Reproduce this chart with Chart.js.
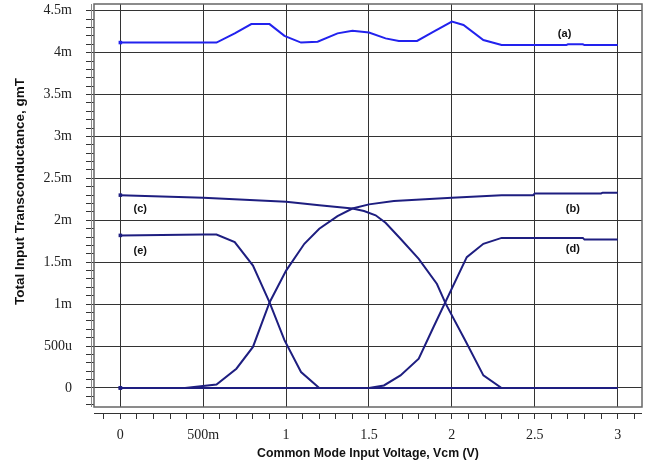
<!DOCTYPE html>
<html>
<head>
<meta charset="utf-8">
<title>Total Input Transconductance vs Vcm</title>
<script src="https://cdn.jsdelivr.net/npm/chart.js@4.4.0/dist/chart.umd.min.js"></script>
<style>
  html, body { margin: 0; padding: 0; background: #fff; }
</style>
</head>
<body>
<canvas id="gmChart" width="651" height="467"></canvas>
<script>
// Vcm (V) and gmT (mS), one pair of arrays per curve
const vcmA = [0, 0.58, 0.69, 0.79, 0.90, 0.99, 1.09, 1.19, 1.31, 1.40, 1.50, 1.60, 1.68, 1.79, 1.89, 2.0, 2.07, 2.19, 2.30, 2.69, 2.70, 2.79, 2.80, 3.0];
const gmA  = [4.12, 4.12, 4.23, 4.34, 4.34, 4.20, 4.12, 4.13, 4.23, 4.26, 4.24, 4.17, 4.14, 4.14, 4.25, 4.37, 4.33, 4.15, 4.09, 4.09, 4.10, 4.10, 4.09, 4.09];

const vcmB = [0, 0.39, 0.58, 0.70, 0.80, 0.90, 1.0, 1.11, 1.20, 1.31, 1.40, 1.50, 1.65, 2.0, 2.30, 2.49, 2.50, 2.90, 2.91, 3.0];
const gmB  = [0, 0, 0.04, 0.23, 0.49, 1.02, 1.40, 1.72, 1.90, 2.05, 2.14, 2.19, 2.23, 2.27, 2.30, 2.30, 2.32, 2.32, 2.33, 2.33];

const vcmC = [0, 0.5, 1.0, 1.2, 1.4, 1.47, 1.54, 1.6, 1.69, 1.80, 1.91, 1.964, 2.08, 2.19, 2.30, 3.0];
const gmC  = [2.30, 2.27, 2.22, 2.18, 2.14, 2.11, 2.06, 1.97, 1.78, 1.54, 1.24, 1.0, 0.57, 0.15, 0, 0];

const vcmD = [0, 1.5, 1.59, 1.69, 1.80, 1.89, 2.09, 2.19, 2.30, 2.79, 2.80, 3.0];
const gmD  = [0, 0, 0.03, 0.15, 0.35, 0.73, 1.56, 1.72, 1.79, 1.79, 1.77, 1.77];

const vcmE = [0, 0.5, 0.58, 0.69, 0.80, 0.90, 0.99, 1.09, 1.20, 3.0];
const gmE  = [1.82, 1.83, 1.83, 1.74, 1.46, 1.02, 0.57, 0.19, 0, 0];

const curveNames = ["(a)", "(b)", "(c)", "(d)", "(e)"];
const labelVcm   = [2.68, 2.73, 0.12, 2.73, 0.12];
const labelGm    = [4.22, 2.14, 2.13, 1.66, 1.64];

const xTitle = "Common Mode Input Voltage, Vcm (V)";
const yTitle = "Total Input Transconductance, gmT";

const BLUE = "#2222ee";
const NAVY = "#1e1e80";
const GRID = "#333";

const isMajor = v => Math.abs(v * 2 - Math.round(v * 2)) < 1e-6;

function fmtVcm(v) {
  if (!isMajor(v)) return "";
  if (Math.abs(v) < 1e-9) return "0";
  if (Math.abs(v - 0.5) < 1e-9) return "500m";
  return String(+v.toFixed(1));
}

function fmtGm(v) {
  if (!isMajor(v)) return "";
  if (Math.abs(v) < 1e-9) return "0";
  if (Math.abs(v - 0.5) < 1e-9) return "500u";
  return +v.toFixed(1) + "m";
}

function toPoints(xs, ys) {
  return xs.map((x, i) => ({ x: x, y: ys[i] }));
}

function curve(xs, ys, color) {
  return {
    data: toPoints(xs, ys),
    borderColor: color,
    backgroundColor: color,
    borderWidth: 2,
    tension: 0,
    pointStyle: "rect",
    pointRadius: c => c.dataIndex === 0 ? 2.5 : 0,
    pointBorderWidth: 0,
    pointBackgroundColor: color
  };
}

// frame round the plot, the detached tick bar under it, and the y title
const framePlugin = {
  id: "frame",
  afterDraw(chart) {
    const { ctx, chartArea: a } = chart;
    ctx.save();
    ctx.strokeStyle = "#666";
    ctx.lineWidth = 1.5;
    ctx.strokeRect(a.left, a.top, a.right - a.left, a.bottom - a.top);
    ctx.strokeStyle = "#888";
    ctx.lineWidth = 1;
    ctx.beginPath();
    ctx.moveTo(a.left - 2.5, a.top);
    ctx.lineTo(a.left - 2.5, a.bottom);
    ctx.stroke();
    ctx.strokeStyle = "#333";
    ctx.beginPath();
    ctx.moveTo(a.left, a.bottom + 6.5);
    ctx.lineTo(a.right, a.bottom + 6.5);
    ctx.stroke();

    ctx.translate(20, (a.top + a.bottom) / 2 - 14);
    ctx.rotate(-Math.PI / 2);
    ctx.font = 'bold 13.5px "Liberation Sans", Arial, sans-serif';
    ctx.fillStyle = "#111";
    ctx.textAlign = "center";
    ctx.textBaseline = "middle";
    ctx.fillText(yTitle, 0, 0);
    ctx.restore();
  }
};

const labelPlugin = {
  id: "curveLabels",
  afterDatasetsDraw(chart) {
    const { ctx, scales: { x, y } } = chart;
    ctx.save();
    ctx.font = 'bold 11px "Liberation Sans", Arial, sans-serif';
    ctx.fillStyle = "#111";
    ctx.textAlign = "center";
    ctx.textBaseline = "middle";
    curveNames.forEach((t, i) => {
      ctx.fillText(t, x.getPixelForValue(labelVcm[i]), y.getPixelForValue(labelGm[i]));
    });
    ctx.restore();
  }
};

const tickFont = { family: '"Liberation Serif", "Times New Roman", serif', size: 14 };

const ctx = document.getElementById("gmChart").getContext("2d");
const gmChart = new Chart(ctx, {
  type: "line",
  data: {
    datasets: [
      curve(vcmA, gmA, BLUE),
      curve(vcmB, gmB, NAVY),
      curve(vcmC, gmC, NAVY),
      curve(vcmD, gmD, NAVY),
      curve(vcmE, gmE, NAVY)
    ]
  },
  options: {
    responsive: false,
    animation: false,
    layout: { padding: { top: 4, right: 9, left: 0, bottom: 0 } },
    plugins: {
      legend: { display: false },
      tooltip: { enabled: false }
    },
    scales: {
      x: {
        type: "linear",
        min: -0.159,
        max: 3.147,
        border: { display: false },
        grid: {
          color: c => isMajor(c.tick.value) ? GRID : "rgba(0,0,0,0)",
          tickColor: "#333",
          tickLength: 12,
          tickBorderDash: [0, 6, 6]
        },
        ticks: {
          stepSize: 0.1,
          includeBounds: false,
          autoSkip: false,
          maxRotation: 0,
          padding: 8,
          color: "#222",
          font: tickFont,
          callback: v => fmtVcm(v)
        },
        title: {
          display: true,
          text: xTitle,
          color: "#111",
          font: { family: '"Liberation Sans", Arial, sans-serif', size: 12.3, weight: "bold" },
          padding: { top: 0, bottom: 6 }
        },
        afterFit: s => { s.height = 60; s.paddingLeft = 0; s.paddingRight = 0; }
      },
      y: {
        type: "linear",
        min: -0.227,
        max: 4.58,
        border: { display: false },
        grid: {
          color: c => isMajor(c.tick.value) ? GRID : "rgba(0,0,0,0)",
          tickColor: "#333",
          tickLength: 8
        },
        ticks: {
          stepSize: 0.1,
          includeBounds: false,
          autoSkip: false,
          padding: 14,
          color: "#222",
          font: tickFont,
          callback: v => fmtGm(v)
        },
        afterFit: s => { s.width = 94; s.paddingTop = 0; s.paddingBottom = 0; }
      }
    }
  },
  plugins: [framePlugin, labelPlugin]
});
</script>
</body>
</html>
